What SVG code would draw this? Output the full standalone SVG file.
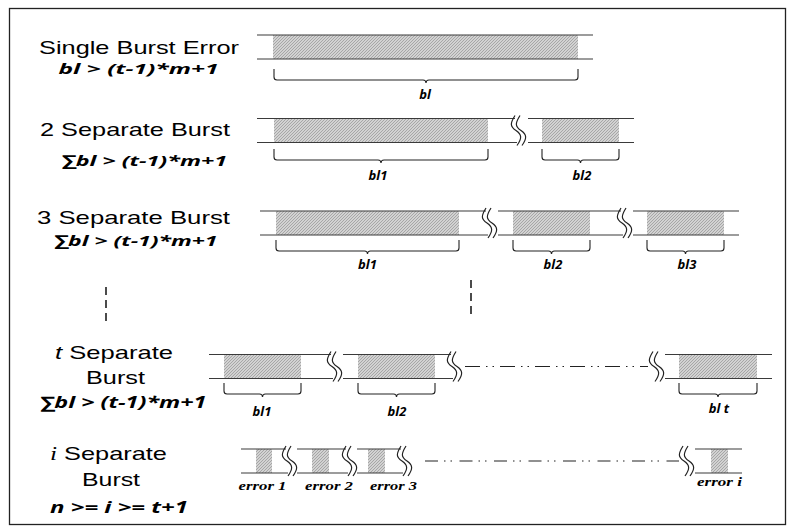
<svg xmlns="http://www.w3.org/2000/svg" xmlns:xlink="http://www.w3.org/1999/xlink" width="794" height="530" viewBox="0 0 794 530">
<defs>
<pattern id="hatch" patternUnits="userSpaceOnUse" width="3" height="3">
<rect width="3" height="3" fill="#d2d2d2"/>
<path d="M0,3 L3,0 M-1,1 L1,-1 M2,4 L4,2" stroke="#939393" stroke-width="0.7"/>
</pattern>
<g id="brk" fill="none" stroke="#222" stroke-width="1.2">
<path d="M2,-3 C-3,5 -3,8 3,12 S9,20 4,27"/>
<path d="M7,-3 C2,5 2,8 8,12 S14,20 9,27"/>
</g>
</defs>
<style>
.ttl{font-family:"Liberation Sans",Arial,sans-serif;font-size:19px;fill:#000}
.fm{font-family:"Open Sans","DejaVu Sans",sans-serif;font-weight:700;font-style:italic;font-size:15px;fill:#000}
.lb{font-family:"Open Sans","DejaVu Sans",sans-serif;font-weight:700;font-style:italic;font-size:13px;fill:#000;text-anchor:middle}
.er{font-family:"Liberation Serif","Times New Roman",serif;font-weight:700;font-style:italic;font-size:13px;fill:#000}
.ln{stroke:#3a3a3a;stroke-width:1.2;fill:none}
.sh{fill:url(#hatch)}
.br{stroke:#222;stroke-width:1.1;fill:none}
.dd{stroke:#222;stroke-width:1.2;fill:none}
.vd{stroke:#111;stroke-width:1.5;stroke-dasharray:8 5}
</style>
<rect x="9.5" y="8.5" width="776" height="516" fill="#fff" stroke="#222" stroke-width="1.3"/>

<g id="row-single">
<text class="ttl" x="39" y="54" textLength="200" lengthAdjust="spacingAndGlyphs">Single Burst Error</text>
<text class="fm" x="58.5" y="74" textLength="160" lengthAdjust="spacingAndGlyphs">bl &gt; (t-1)*m+1</text>
<rect class="sh" x="273" y="35" width="305" height="24"/>
<path class="ln" d="M257,35 H593 M257,59 H593"/>
<path class="br" d="M274,69 V77 Q274,80 277,80 H423 Q426,80 426,83 Q426,80 429,80 H575 Q578,80 578,77 V69"/>
<text class="lb" x="425" y="99">bl</text>
</g>

<g id="row-two">
<text class="ttl" x="40" y="136" textLength="190" lengthAdjust="spacingAndGlyphs">2 Separate Burst</text>
<text class="fm" x="61" y="166" textLength="166" lengthAdjust="spacingAndGlyphs">∑bl &gt; (t-1)*m+1</text>
<rect class="sh" x="274" y="118.5" width="214" height="24"/>
<rect class="sh" x="542" y="118.5" width="77" height="24"/>
<path class="ln" d="M257,118.5 H515 M257,142.5 H517 M528,118.5 H634 M528,142.5 H634"/>
<use xlink:href="#brk" x="513" y="118.5"/>
<path class="br" d="M274,149 V157 Q274,160 277,160 H378 Q381,160 381,163 Q381,160 384,160 H485 Q488,160 488,157 V149"/>
<path class="br" d="M542,149 V157 Q542,160 545,160 H577.5 Q580.5,160 580.5,163 Q580.5,160 583.5,160 H616 Q619,160 619,157 V149"/>
<text class="lb" x="378" y="180">bl1</text>
<text class="lb" x="582" y="180">bl2</text>
</g>

<g id="row-three">
<text class="ttl" x="37" y="224" textLength="193" lengthAdjust="spacingAndGlyphs">3 Separate Burst</text>
<text class="fm" x="53.5" y="246" textLength="164" lengthAdjust="spacingAndGlyphs">∑bl &gt; (t-1)*m+1</text>
<rect class="sh" x="276" y="211" width="183" height="24"/>
<rect class="sh" x="513" y="211" width="77" height="24"/>
<rect class="sh" x="647" y="211" width="77" height="24"/>
<path class="ln" d="M260,211 H486 M260,235 H488 M498,211 H621 M498,235 H623 M633,211 H739 M633,235 H739"/>
<use xlink:href="#brk" x="484" y="211"/>
<use xlink:href="#brk" x="619" y="211"/>
<path class="br" d="M276,240 V248 Q276,251 279,251 H364.5 Q367.5,251 367.5,254 Q367.5,251 370.5,251 H456 Q459,251 459,248 V240"/>
<path class="br" d="M513,240 V248 Q513,251 516,251 H548.5 Q551.5,251 551.5,254 Q551.5,251 554.5,251 H587 Q590,251 590,248 V240"/>
<path class="br" d="M647,240 V248 Q647,251 650,251 H682.5 Q685.5,251 685.5,254 Q685.5,251 688.5,251 H721 Q724,251 724,248 V240"/>
<text class="lb" x="367.5" y="269">bl1</text>
<text class="lb" x="553" y="269">bl2</text>
<text class="lb" x="687" y="269">bl3</text>
</g>

<g id="ellipsis">
<line class="vd" x1="106" y1="287" x2="106" y2="321"/>
<line class="vd" x1="471" y1="280" x2="471" y2="317"/>
</g>

<g id="row-t">
<text class="ttl" x="55" y="359" textLength="118" lengthAdjust="spacingAndGlyphs"><tspan font-style="italic">t</tspan> Separate</text>
<text class="ttl" x="86" y="384" textLength="59" lengthAdjust="spacingAndGlyphs">Burst</text>
<text class="fm" x="39.5" y="408" textLength="167" lengthAdjust="spacingAndGlyphs" style="font-size:16px">∑bl &gt; (t-1)*m+1</text>
<rect class="sh" x="224" y="354.5" width="77" height="24"/>
<rect class="sh" x="358" y="354.5" width="77" height="24"/>
<rect class="sh" x="679" y="354.5" width="78" height="24"/>
<path class="ln" d="M209,354.5 H331 M209,378.5 H333 M343,354.5 H451 M343,378.5 H453 M665,354.5 H772 M665,378.5 H772"/>
<path class="dd" d="M465,366.5 H648" stroke-dasharray="15 6 1.5 5 1.5 6"/>
<use xlink:href="#brk" x="329" y="354.5"/>
<use xlink:href="#brk" x="449" y="354.5"/>
<use xlink:href="#brk" x="651" y="354.5"/>
<path class="br" d="M224,383 V391 Q224,394 227,394 H259.5 Q262.5,394 262.5,397 Q262.5,394 265.5,394 H298 Q301,394 301,391 V383"/>
<path class="br" d="M358,383 V391 Q358,394 361,394 H393.5 Q396.5,394 396.5,397 Q396.5,394 399.5,394 H432 Q435,394 435,391 V383"/>
<path class="br" d="M679,383 V391 Q679,394 682,394 H715 Q718,394 718,397 Q718,394 721,394 H754 Q757,394 757,391 V383"/>
<text class="lb" x="262" y="416">bl1</text>
<text class="lb" x="397" y="416">bl2</text>
<text class="lb" x="719" y="413">bl t</text>
</g>

<g id="row-i">
<text class="ttl" x="50" y="460" textLength="117" lengthAdjust="spacingAndGlyphs"><tspan font-style="italic" font-family="Liberation Serif, serif">i</tspan> Separate</text>
<text class="ttl" x="82" y="486" textLength="58" lengthAdjust="spacingAndGlyphs">Burst</text>
<text class="fm" x="50" y="513" textLength="138" lengthAdjust="spacingAndGlyphs" style="font-size:16px">n &gt;= i &gt;= t+1</text>
<rect class="sh" x="256" y="449" width="16" height="24"/>
<rect class="sh" x="312" y="449" width="17" height="24"/>
<rect class="sh" x="368" y="449" width="17" height="24"/>
<rect class="sh" x="711" y="449" width="17" height="24"/>
<path class="ln" d="M241,449 H286 M241,473 H288 M297,449 H346 M297,473 H348 M357,449 H401 M357,473 H403 M695,449 H742 M695,473 H742"/>
<path class="dd" d="M425,461 H679" stroke-dasharray="13 6 1.5 5 1.5 7.5"/>
<use xlink:href="#brk" x="284" y="449"/>
<use xlink:href="#brk" x="344" y="449"/>
<use xlink:href="#brk" x="399" y="449"/>
<use xlink:href="#brk" x="681" y="449"/>
<text class="er" x="238.5" y="490" textLength="48" lengthAdjust="spacingAndGlyphs">error 1</text>
<text class="er" x="305" y="490" textLength="48" lengthAdjust="spacingAndGlyphs">error 2</text>
<text class="er" x="370" y="490" textLength="47" lengthAdjust="spacingAndGlyphs">error 3</text>
<text class="er" x="697" y="486" textLength="45" lengthAdjust="spacingAndGlyphs">error i</text>
</g>
</svg>
